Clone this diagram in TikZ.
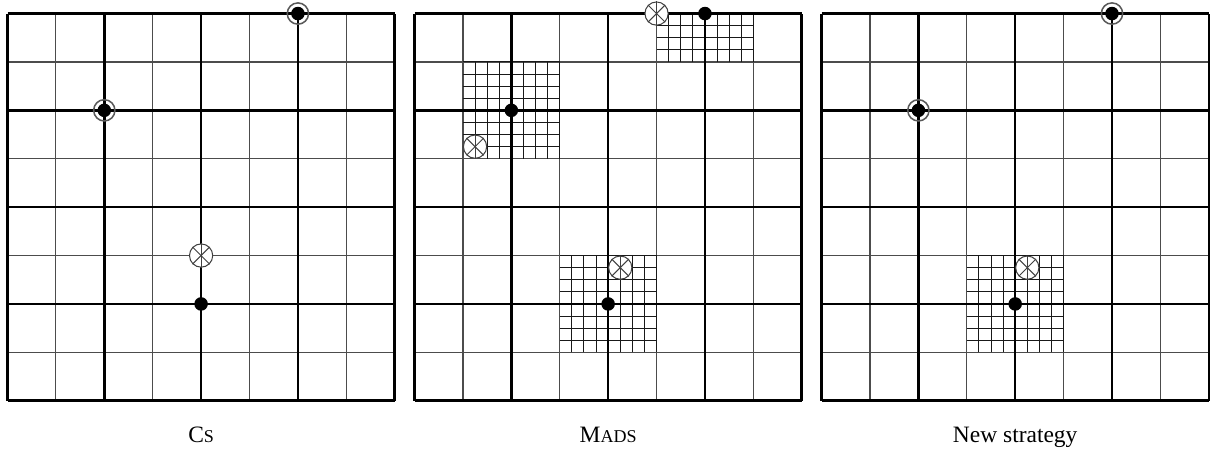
\documentclass[tikz,border=0pt]{standalone}
\usepackage{fontspec}
\setmainfont{Liberation Serif}
\usetikzlibrary{positioning}
\newcommand{\fakesc}[1]{{\fontsize{10.6}{12}\selectfont #1}}

\begin{document}
\begin{tikzpicture}[
      fine/.style={line width=0.7pt, color=black!70},
      coarse/.style={line width=1.5pt},
      mesh/.style={line width=0.55pt, color=black!90},
      dot/.style={circle, fill=black, inner sep=0pt, minimum size=0.28cm},
      ring/.style={circle, draw=black!65, line width=0.9pt, inner sep=0pt, minimum size=0.44cm},
      trial/.style={circle, draw=black!75, fill=white, line width=0.6pt, inner sep=0pt, minimum size=0.48cm},
      spoke/.style={line width=0.55pt, color=black!75},
      lbl/.style={anchor=base, font=\fontsize{13.8}{16}\selectfont}
  ]
    \useasboundingbox (-0.155,-1.136) rectangle (24.845,8.28);

    % Cs
    \begin{scope}
      \draw[fine] (0,0) grid (8,8);
      \draw[coarse] (0,0) grid[step=2] (8,8);
      \node[ring] (csr1) at (6,8) {}; \node[dot] (csd1) at (6,8) {};
      \node[ring] (csr2) at (2,6) {}; \node[dot] (csd2) at (2,6) {};
      \node[dot] (csd3) at (4,2) {};
      \node[trial] (cst) at (4,3) {};
      \foreach \a in {45,90,135} \draw[spoke] (cst.\a) -- (cst.\a+180);
      \node[lbl] (cslbl) at (4,-0.87) {C\fakesc{S}};
    \end{scope}

    % Mads
    \begin{scope}[xshift=8.41cm]
      \draw[fine] (0,0) grid (8,8);
      \draw[mesh] (5,7) grid[step=0.25] (7,8);
      \draw[mesh] (1,5) grid[step=0.25] (3,7);
      \draw[mesh] (3,1) grid[step=0.25] (5,3);
      \draw[coarse] (0,0) grid[step=2] (8,8);
      \node[dot] (mdd1) at (6,8) {};
      \node[dot] (mdd2) at (2,6) {};
      \node[dot] (mdd3) at (4,2) {};
      \node[trial] (mdt1) at (5,8) {};
      \node[trial] (mdt2) at (1.25,5.25) {};
      \node[trial] (mdt3) at (4.25,2.75) {};
      \foreach \t in {mdt1,mdt2,mdt3}
        \foreach \a in {45,90,135} \draw[spoke] (\t.\a) -- (\t.\a+180);
      \node[lbl] (mdlbl) at (4,-0.87) {M\fakesc{ADS}};
    \end{scope}

    % New strategy
    \begin{scope}[xshift=16.82cm]
      \draw[fine] (0,0) grid (8,8);
      \draw[mesh] (3,1) grid[step=0.25] (5,3);
      \draw[coarse] (0,0) grid[step=2] (8,8);
      \node[ring] (nsr1) at (6,8) {}; \node[dot] (nsd1) at (6,8) {};
      \node[ring] (nsr2) at (2,6) {}; \node[dot] (nsd2) at (2,6) {};
      \node[dot] (nsd3) at (4,2) {};
      \node[trial] (nst) at (4.25,2.75) {};
      \foreach \a in {45,90,135} \draw[spoke] (nst.\a) -- (nst.\a+180);
      \node[lbl] (nslbl) at (4,-0.87) {New strategy};
    \end{scope}
  \end{tikzpicture}
\end{document}
